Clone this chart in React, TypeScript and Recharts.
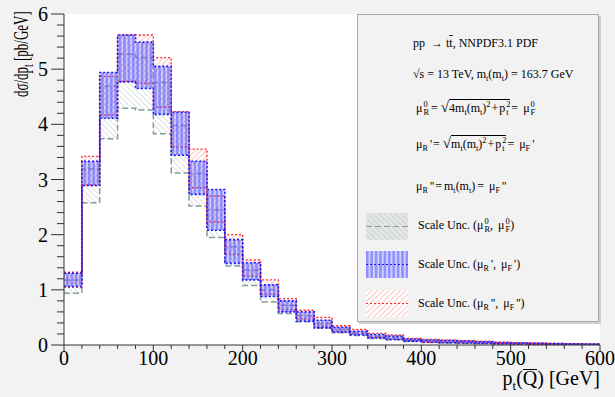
import React from 'react';
import { ComposedChart, Area, XAxis, YAxis } from 'recharts';

// bin edges in GeV (20 GeV bins)
const binEdges = [0, 20, 40, 60, 80, 100, 120, 140, 160, 180, 200, 220, 240, 260, 280, 300, 320, 340, 360, 380, 400, 420, 440, 460, 480, 500, 520, 540, 560, 580, 600];

// scale bands, pb/GeV, one value per bin
const grayLo = [0.94, 2.58, 3.74, 4.29, 4.26, 3.83, 3.12, 2.52, 1.95, 1.43, 1.08, 0.78, 0.57, 0.42, 0.31, 0.22, 0.17, 0.12, 0.095, 0.065, 0.045, 0.035, 0.03, 0.025, 0.018, 0.015, 0.012, 0.01, 0.008, 0.006];
const grayHi = [1.18, 3.19, 4.69, 5.27, 5.21, 4.76, 3.98, 3.11, 2.45, 1.78, 1.36, 1.0, 0.72, 0.53, 0.39, 0.28, 0.22, 0.16, 0.14, 0.095, 0.075, 0.065, 0.055, 0.05, 0.035, 0.03, 0.025, 0.02, 0.017, 0.014];
const blueLo = [1.06, 2.89, 4.11, 4.77, 4.65, 4.18, 3.44, 2.73, 2.08, 1.48, 1.18, 0.88, 0.6, 0.43, 0.31, 0.23, 0.18, 0.13, 0.1, 0.07, 0.05, 0.04, 0.035, 0.03, 0.02, 0.018, 0.015, 0.012, 0.01, 0.008];
const blueHi = [1.3, 3.33, 4.94, 5.62, 5.49, 5.05, 4.22, 3.33, 2.82, 1.91, 1.49, 1.09, 0.8, 0.6, 0.45, 0.32, 0.25, 0.19, 0.16, 0.11, 0.09, 0.08, 0.07, 0.06, 0.045, 0.035, 0.03, 0.025, 0.02, 0.018];
const redLo = [1.05, 2.9, 4.17, 4.78, 4.74, 4.31, 3.59, 2.85, 2.23, 1.64, 1.25, 0.92, 0.64, 0.47, 0.34, 0.25, 0.2, 0.14, 0.11, 0.075, 0.055, 0.045, 0.04, 0.035, 0.025, 0.02, 0.018, 0.015, 0.012, 0.01];
const redHi = [1.32, 3.42, 4.87, 5.62, 5.62, 5.21, 4.23, 3.55, 2.7, 2.0, 1.54, 1.18, 0.84, 0.63, 0.5, 0.35, 0.28, 0.21, 0.18, 0.12, 0.1, 0.09, 0.08, 0.07, 0.05, 0.04, 0.035, 0.03, 0.025, 0.02];

const xTicks = [0, 20, 40, 60, 80, 100, 120, 140, 160, 180, 200, 220, 240, 260, 280, 300, 320, 340, 360, 380, 400, 420, 440, 460, 480, 500, 520, 540, 560, 580, 600];
const yTicks = [0, 0.2, 0.4, 0.6, 0.8, 1, 1.2, 1.4, 1.6, 1.8, 2, 2.2, 2.4, 2.6, 2.8, 3, 3.2, 3.4, 3.6, 3.8, 4, 4.2, 4.4, 4.6, 4.8, 5, 5.2, 5.4, 5.6, 5.8, 6];

// last edge repeats the last bin so the step closes at 600
const rows = binEdges.map((x, i) => {
  const k = Math.min(i, grayLo.length - 1);
  return {
    x,
    gray: [grayLo[k], grayHi[k]],
    blue: [blueLo[k], blueHi[k]],
    red: [redLo[k], redHi[k]],
  };
});

const serif = '"Liberation Serif", "DejaVu Serif", serif';
const axisColor = '#333';

const XTick = (props: any) => {
  const { x, y, payload } = props;
  const major = payload.value % 100 === 0;
  return (
    <g>
      <line x1={x} x2={x} y1={y} y2={y + (major ? 7 : 4)} stroke={axisColor} />
      {major && (
        <text x={x} y={y + 20} textAnchor="middle" fontFamily={serif} fontSize={20} fill="#000">
          {payload.value}
        </text>
      )}
    </g>
  );
};

const YTick = (props: any) => {
  const { x, y, payload } = props;
  const major = Number.isInteger(payload.value);
  return (
    <g>
      <line x1={x} x2={x - (major ? 13 : 7)} y1={y} y2={y} stroke={axisColor} />
      {major && (
        <text x={x - 16} y={y} dy="0.35em" textAnchor="end" fontFamily={serif} fontSize={20} fill="#000">
          {payload.value}
        </text>
      )}
    </g>
  );
};

const Patterns = ({ p }: { p: string }) => (
  <defs>
    <pattern id={p + 'gray'} width="4" height="4" patternUnits="userSpaceOnUse" patternTransform="rotate(-45)">
      <line x1="0" y1="0" x2="0" y2="4" stroke="#b6bfbf" strokeWidth="1" />
    </pattern>
    <pattern id={p + 'blue'} width="4.4" height="4" patternUnits="userSpaceOnUse">
      <rect x="0" y="0" width="4.4" height="4" fill="#6a6aff" fillOpacity="0.3" />
      <rect x="0" y="0" width="2.6" height="4" fill="#5050ff" fillOpacity="0.5" />
    </pattern>
    <pattern id={p + 'red'} width="4" height="4" patternUnits="userSpaceOnUse" patternTransform="rotate(45)">
      <line x1="0" y1="0" x2="0" y2="4" stroke="#ff8a8a" strokeWidth="1" />
    </pattern>
  </defs>
);

const bandStyle = {
  gray: { stroke: '#8a9999', dash: '6 3', width: 1.5 },
  blue: { stroke: '#1a1aff', dash: '2 2', width: 1.6 },
  red: { stroke: '#ff2a2a', dash: '2 2', width: 1.4 },
};

const Swatch = ({ kind, top }: { kind: 'gray' | 'blue' | 'red'; top: number }) => {
  const s = bandStyle[kind];
  return (
    <svg width={42} height={27} style={{ position: 'absolute', left: 8, top }}>
      <Patterns p="sw" />
      <rect x={0} y={0} width={42} height={27} fill={kind === 'gray' ? '#e4e6e6' : '#fff'} />
      <rect x={0} y={0} width={42} height={27} fill={`url(#sw${kind})`} />
      <line x1={0} x2={42} y1={13.5} y2={13.5} stroke={s.stroke} strokeDasharray={s.dash} strokeWidth={1} />
    </svg>
  );
};

// stacked sub/superscript like TLatex x^{a}_{b}
const SS = ({ sub, sup }: { sub: string; sup: string }) => (
  <span style={{ display: 'inline-flex', flexDirection: 'column', verticalAlign: 'middle', fontSize: '0.7em', lineHeight: '0.95em', marginLeft: 1 }}>
    <span>{sup}</span>
    <span>{sub}</span>
  </span>
);

const Sub = ({ c }: { c: string }) => <sub style={{ fontSize: '0.68em', lineHeight: 0 }}>{c}</sub>;
const Sup = ({ c }: { c: string }) => <sup style={{ fontSize: '0.68em', lineHeight: 0 }}>{c}</sup>;
const Gap = ({ w }: { w: number }) => <span style={{ display: 'inline-block', width: w }} />;

// mu with a subscript and either a stacked 0 or trailing primes
const Mu = ({ s, tag }: { s: string; tag: string }) =>
  tag === '0' ? (
    <span>μ<SS sub={s} sup="0" /></span>
  ) : (
    <span>μ<Sub c={s} /><Gap w={2} />{tag}</span>
  );

const Root = ({ children }: { children: React.ReactNode }) => (
  <span>
    <span style={{ fontSize: '1.25em', lineHeight: 0 }}>√</span>
    <span style={{ borderTop: '1px solid #000', paddingTop: 1 }}>{children}</span>
  </span>
);

const Row = ({ y, x = 55, children }: { y: number; x?: number; children: React.ReactNode }) => (
  <div style={{ position: 'absolute', left: x, top: y - 8, height: 16, lineHeight: '16px', whiteSpace: 'nowrap' }}>
    {children}
  </div>
);

const mt = (
  <span>m<Sub c="t" />(m<Sub c="t" />)</span>
);

const Legend = () => (
  <div
    style={{
      position: 'absolute',
      left: 357,
      top: 14,
      width: 240,
      height: 306,
      background: '#f2f2f2',
      border: '1px solid #a8a8a8',
      boxShadow: '2px 2px 0 #cfcfcf',
      fontFamily: serif,
      fontSize: 12,
      color: '#000',
    }}
  >
    <Row y={28}>
      pp &nbsp;→ t<span style={{ textDecoration: 'overline' }}>t</span>, NNPDF3.1 PDF
    </Row>
    <Row y={59}>
      √s = 13 TeV, m<Sub c="t" />(m<Sub c="t" />) = 163.7 GeV
    </Row>
    <Row y={93} x={58}>
      <Mu s="R" tag="0" /><Gap w={2} />=<Gap w={3} />
      <Root>4{mt}<Sup c="2" /><Gap w={1} />+<Gap w={1} />p<SS sub="t" sup="2" /></Root>
      <Gap w={1} />=<Gap w={5} /><Mu s="F" tag="0" />
    </Row>
    <Row y={129} x={58}>
      <Mu s="R" tag="'" /><Gap w={1} />=<Gap w={3} />
      <Root>{mt}<Sup c="2" /><Gap w={1} />+<Gap w={1} />p<SS sub="t" sup="2" /></Root>
      <Gap w={1} />=<Gap w={5} /><Mu s="F" tag="'" />
    </Row>
    <Row y={171} x={58}>
      <Mu s="R" tag="''" /><Gap w={1} />=<Gap w={2} />{mt}<Gap w={2} />=<Gap w={5} /><Mu s="F" tag="''" />
    </Row>
    <Swatch kind="gray" top={198} />
    <Row y={210} x={60}>
      Scale Unc. (<Mu s="R" tag="0" />,<Gap w={5} /><Mu s="F" tag="0" />)
    </Row>
    <Swatch kind="blue" top={236} />
    <Row y={249} x={60}>
      Scale Unc. (<Mu s="R" tag="'" />,<Gap w={5} /><Mu s="F" tag="'" />)
    </Row>
    <Swatch kind="red" top={275} />
    <Row y={288} x={60}>
      Scale Unc. (<Mu s="R" tag="''" />,<Gap w={5} /><Mu s="F" tag="''" />)
    </Row>
  </div>
);

export default function App() {
  const band = (key: 'gray' | 'red' | 'blue') => {
    const s = bandStyle[key];
    return (
      <Area
        key={key}
        dataKey={key}
        type="stepAfter"
        stroke={s.stroke}
        strokeWidth={s.width}
        strokeDasharray={s.dash}
        fill={`url(#ch${key})`}
        fillOpacity={1}
        dot={false}
        activeDot={false}
        isAnimationActive={false}
      />
    );
  };

  return (
    <div style={{ position: 'absolute', left: 0, top: 0, width: 615, height: 397, background: '#f2f2f2', overflow: 'hidden' }}>
      <div style={{ position: 'absolute', left: 64, top: 14, width: 536, height: 331, background: '#fff' }} />
      <div style={{ position: 'absolute', left: 0, top: 0 }}>
        <ComposedChart width={615} height={397} data={rows} margin={{ top: 14, right: 15, bottom: 0, left: 0 }}>
          <Patterns p="ch" />
          <XAxis
            dataKey="x"
            type="number"
            domain={[0, 600]}
            ticks={xTicks}
            interval={0}
            height={52}
            tickSize={0}
            tickMargin={0}
            tick={<XTick />}
            axisLine={{ stroke: axisColor }}
          />
          <YAxis
            type="number"
            domain={[0, 6]}
            ticks={yTicks}
            interval={0}
            width={64}
            tickSize={0}
            tickMargin={0}
            tick={<YTick />}
            axisLine={{ stroke: axisColor }}
            allowDataOverflow
          />
          {band('gray')}
          {band('red')}
          {band('blue')}
        </ComposedChart>
      </div>
      <Legend />
      <svg width={615} height={397} style={{ position: 'absolute', left: 0, top: 0, pointerEvents: 'none' }}>
        <text transform="rotate(-90) scale(0.62 1)" x={-18} y={28} textAnchor="end" fontFamily={serif} fontSize={21} fill="#000">
          dσ/dp<tspan fontSize={15} dy={5}>t</tspan>
          <tspan dy={-5}> [pb/GeV]</tspan>
        </text>
      </svg>
      <div style={{ position: 'absolute', right: 15, top: 366, fontFamily: serif, fontSize: 20, lineHeight: '24px', whiteSpace: 'nowrap', color: '#000' }}>
        p<sub style={{ fontSize: 13 }}>t</sub>(<span style={{ display: 'inline-block', borderTop: '1.5px solid #000', lineHeight: '17px' }}>Q</span>) [GeV]
      </div>
    </div>
  );
}
